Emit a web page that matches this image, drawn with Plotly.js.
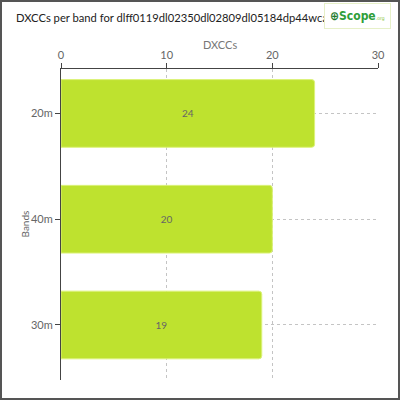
<!DOCTYPE html>
<html>
<head>
<meta charset="utf-8">
<script src="https://cdn.plot.ly/plotly-3.0.1.min.js"></script>
<style>
  body { margin: 0; padding: 0; background: #fff; }
  #chart { width: 396px; height: 396px; border: 2px solid #555; }
</style>
</head>
<body>
<div id="chart"></div>
<script>
// bands, top to bottom
var bands = ["20m", "40m", "30m"];
var dxccs = [24, 20, 19];
var chartTitle = "DXCCs per band for dlff0119dl02350dl02809dl05184dp44wca cc";

var trace1 = {
    x: dxccs,
    y: bands,
    type: 'bar',
    orientation: 'h',
    text: dxccs.map(String),
    textposition: 'inside',
    insidetextanchor: 'middle',
    textfont: {size: 10, color: '#666'},
    marker: {
        color: '#bee22f',
        line: {color: '#dcf27a', width: 1},
        cornerradius: 3
    },
    hoverinfo: 'none'
};

var layout = {
    width: 396,
    height: 396,
    font: {family: 'Lato, sans-serif', color: '#555'},
    paper_bgcolor: '#fff',
    plot_bgcolor: '#fff',
    showlegend: false,
    bargap: 0.36,
    margin: {l: 59, r: 20, t: 67, b: 18},
    title: {
        text: chartTitle,
        x: 14 / 396, xanchor: 'left',
        y: 1 - 16 / 396, yanchor: 'middle',
        font: {size: 11.2, color: '#222'}
    },
    xaxis: {
        side: 'top',
        range: [0, 30],
        dtick: 10,
        showline: true,
        linecolor: '#444',
        ticks: 'outside',
        ticklen: 5,
        tickcolor: '#444',
        tickfont: {size: 11, color: '#666'},
        gridcolor: '#c4c4c4',
        griddash: '3px,3px',
        zeroline: false
    },
    yaxis: {
        range: [2.52, -0.42],
        showline: true,
        linecolor: '#444',
        ticks: 'outside',
        ticklen: 5,
        tickcolor: '#444',
        tickfont: {size: 11, color: '#666'},
        showgrid: true,
        gridcolor: '#c4c4c4',
        griddash: '3px,3px'
    },
    annotations: [{
        // x axis title
        xref: 'paper', yref: 'paper',
        x: 0.5, xanchor: 'center',
        y: 1 + 24 / 311, yanchor: 'middle',
        text: 'DXCCs', showarrow: false,
        font: {size: 11, color: '#777'}
    }, {
        // y axis title
        xref: 'paper', yref: 'paper',
        x: -37 / 317, xanchor: 'center',
        y: 0.5, yanchor: 'middle',
        textangle: -90,
        text: 'Bands', showarrow: false,
        font: {size: 10, color: '#666'}
    }, {
        // logo box
        xref: 'paper', yref: 'paper',
        x: 330 / 317, xanchor: 'right',
        y: 1 + 66 / 311, yanchor: 'top',
        text: '<b><span style="color:#1d7a2e">⊕</span><span style="color:#2e9e3a">Scope</span></b><span style="color:#8cc63f;font-size:5px">.org</span>',
        showarrow: false,
        font: {size: 12, family: 'DejaVu Sans Condensed, sans-serif'},
        bordercolor: '#e6f0c8',
        borderwidth: 1,
        borderpad: 5,
        bgcolor: '#fff'
    }]
};

Plotly.newPlot('chart', [trace1], layout, {displayModeBar: false, staticPlot: true});
</script>
</body>
</html>
